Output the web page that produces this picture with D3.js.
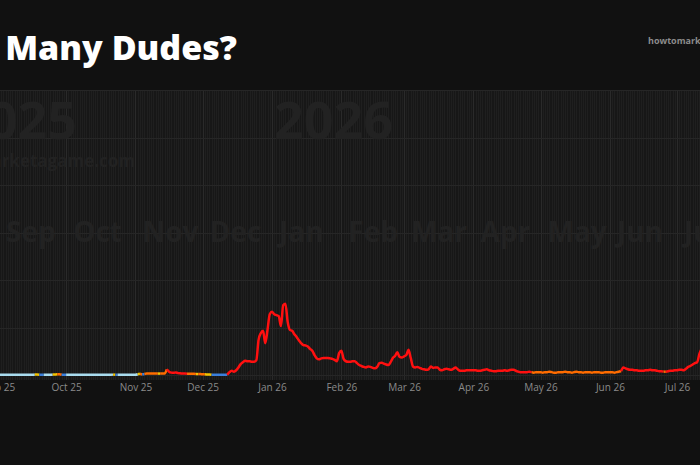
<!DOCTYPE html>
<html><head><meta charset="utf-8">
<script src="https://cdn.jsdelivr.net/npm/d3@7"></script>
<style>
html,body{margin:0;padding:0;background:#111111;}
svg{display:block;}
</style></head>
<body>
<svg id="chart" width="700" height="465"></svg>
<script>
// ---- DATA ----
const startDate = "2025-09-01";           // first daily value
const yTicks = [0, 100, 200, 300, 400, 500, 600];
const monthTickFormat = "%b %y";
const yearLabels = [{year: "2025", date: "2025-09-01", anchor: "end"}, {year: "2026", date: "2026-01-01", anchor: "start"}];
const bigMonthLabels = ["Sep","Oct","Nov","Dec","Jan","Feb","Mar","Apr","May","Jun","Jul"];
const bigMonthDates  = ["2025-09-01","2025-10-01","2025-11-01","2025-12-01","2026-01-01","2026-02-01","2026-03-01","2026-04-01","2026-05-01","2026-06-01","2026-07-01"];

// daily values, month by month
const sep25 = [0.5,0.5,0.5,0.5,0.5,0.5,0.5,0.5,0.5,0.5,0.5,0.5,0.5,0.5,0.5,0.5,1,1,0.5,0.5,0.5,0.5,0.5,0.5,1,1,1.5,1.5,0.5,0.5];
const oct25 = [0.5,0.5,0.5,0.5,0.5,0.5,0.5,0.5,0.5,0.5,0.5,0.5,0.5,0.5,0.5,0.5,0.5,0.5,0.5,0.5,0.5,0.8,0.5,0.5,0.5,0.5,0.5,0.5,0.5,0.5,0.5];
const nov25 = [0.5,1.5,2.5,1,2,3,3,3,3,3,3,3,3,3,12,7,5,4.5,5.5,4,3.5,3,3,2.5,2.5,2.5,2.5,2,2,2];
const dec25 = [1.5,1.5,1,1,0.5,0.5,0.5,0.5,0.5,0.5,0.5,0.5,6,9,7,10,16,23,27,30,29,29,28,28,31,74,88,93,67,95,128];
const jan26 = [133,128,126,124,103,147,150,112,95,93,86,80,73,67,63,62,60,55,51,42,35,33,35,36,36,36,35,34,32,29,46];
const feb26 = [51,34,29,28,28,29,29,25,21,19,17,16,18,17,15,14,17,25,26,24,22,21,27,36,40,48,38,37];
const mar26 = [39,42,53,36,18,16,17,15,13,12,11,12,18,15,16,16,11,10,12,13,12,11,13,16,12,9,9,9,10,10,10];
const apr26 = [10,10,9,9,10,11,12,10,9,8,8,9,9,9,10,9,10,11,11,9,7,6,6,6,6,7,6,5,6,6];
const may26 = [6,5,6,6,7,6,5,5,6,6,6,7,6,6,5,6,7,6,6,5,6,6,6,5,6,6,6,5,5,6,6];
const jun26 = [6,6,5,6,7,8,16,14,12,11,11,10,10,9,9,9,10,10,11,10,10,9,8,8,7,7,8,9,9,10];
const jul26 = [10,11,11,10,13,17,19,22,25,27,44,55,63];

// status runs: [index of first day, status code]
const statusRuns = [[0,"lb"],[16,"y"],[18,"b"],[20,"lb"],[24,"y"],[26,"o"],[28,"b"],[30,"lb"],[51,"y"],[52,"b"],[53,"lb"],
  [62,"y"],[63,"o"],[64,"b"],[65,"o"],[71,"y"],[72,"o"],[75,"r"],[84,"o"],[88,"y"],[89,"o"],[92,"y"],[95,"b"],[102,"r"],
  [238,"o"],[278,"r"],[297,"o"],[298,"r"]];
const statusColors = {lb:"#a9dcef", b:"#3b7fdc", y:"#f3c300", o:"#ff6c00", r:"#ff1010"};

// ---- BUILD ----
const values = [].concat(sep25, oct25, nov25, dec25, jan26, feb26, mar26, apr26, may26, jun26, jul26);
const t0 = new Date(startDate + "T00:00:00Z");
const data = values.map((v, i) => ({date: d3.utcDay.offset(t0, i), value: v}));
let ri = 0;
data.forEach((d, i) => {
  while (ri + 1 < statusRuns.length && statusRuns[ri + 1][0] <= i) ri++;
  d.status = statusRuns[ri][1];
});

const svg = d3.select("#chart");
const W = 700, H = 465;
const plotTop = 90, plotBottom = 380;

const x = d3.scaleUtc()
  .domain([new Date("2025-09-01T00:00:00Z"), new Date("2026-07-01T00:00:00Z")])
  .range([-1, 677]);
const y = d3.scaleLinear().domain([0, 600]).range([375, 90]);

svg.append("rect").attr("width", W).attr("height", H).attr("fill", "#111111");
svg.append("rect").attr("x", 0).attr("y", plotTop).attr("width", W).attr("height", plotBottom - plotTop).attr("fill", "#171717");

// daily stripes
const days = d3.utcDay.range(new Date("2025-08-20T00:00:00Z"), new Date("2026-07-25T00:00:00Z"));
svg.append("g").selectAll("line").data(days).join("line")
  .attr("x1", d => Math.round(x(d)) + 0.5).attr("x2", d => Math.round(x(d)) + 0.5)
  .attr("y1", plotTop).attr("y2", plotBottom)
  .attr("stroke", "#1f1f1f").attr("stroke-width", 1);
// month lines
const months = d3.utcMonth.range(new Date("2025-08-01T00:00:00Z"), new Date("2026-08-01T00:00:00Z"));
svg.append("g").selectAll("line").data(months).join("line")
  .attr("x1", d => Math.round(x(d)) + 0.5).attr("x2", d => Math.round(x(d)) + 0.5)
  .attr("y1", plotTop).attr("y2", plotBottom)
  .attr("stroke", "#2a2a2a").attr("stroke-width", 1);
// horizontal grid
svg.append("g").selectAll("line").data(yTicks).join("line")
  .attr("x1", 0).attr("x2", W)
  .attr("y1", d => Math.round(y(d)) + 0.5).attr("y2", d => Math.round(y(d)) + 0.5)
  .attr("stroke", "#262626").attr("stroke-width", 1);

// watermarks
const wm = svg.append("g").attr("fill", "#222222").style("font-family", "'Open Sans', sans-serif").style("font-weight", 700);
wm.selectAll("text.yr").data(yearLabels).join("text").attr("class", "yr")
  .attr("x", d => d.anchor === "end" ? x(new Date(d.date + "T00:00:00Z")) + 78 : x(new Date(d.date + "T00:00:00Z")) + 2)
  .attr("y", 139).attr("text-anchor", d => d.anchor)
  .style("font-size", "52px").text(d => d.year);
wm.append("text").attr("x", 135).attr("y", 167).attr("text-anchor", "end")
  .style("font-size", "17px").text("howtomarketagame.com");
wm.selectAll("text.mo").data(bigMonthLabels).join("text").attr("class", "mo")
  .attr("x", (d, i) => x(new Date(bigMonthDates[i] + "T00:00:00Z")) + 7)
  .attr("y", 242).style("font-size", "28px").text(d => d);

// line, split into coloured runs
const line = d3.line().x(d => x(d.date)).y(d => y(d.value)).curve(d3.curveMonotoneX);
const runs = [];
let cur = null;
data.forEach((d, i) => {
  if (!cur || cur.status !== d.status) {
    if (cur) cur.pts.push(d);
    cur = {status: d.status, pts: [d]};
    runs.push(cur);
  } else cur.pts.push(d);
});
svg.append("g").selectAll("path").data(runs).join("path")
  .attr("d", r => line(r.pts))
  .attr("fill", "none")
  .attr("stroke", r => statusColors[r.status])
  .attr("stroke-width", 2.5)
  .attr("stroke-linejoin", "round").attr("stroke-linecap", "butt");

// x axis
const axis = d3.axisBottom(x).ticks(d3.utcMonth.every(1)).tickFormat(d3.utcFormat(monthTickFormat)).tickSize(0).tickPadding(4);
const ax = svg.append("g").attr("transform", `translate(0,${plotBottom})`).call(axis);
ax.select(".domain").remove();
ax.selectAll("text").attr("fill", "#8a8a8a").style("font-family", "'Open Sans', sans-serif").style("font-size", "10px");

// title
svg.append("text").attr("x", 237).attr("y", 60).attr("text-anchor", "end")
  .attr("fill", "#ffffff").style("font-family", "'Open Sans', sans-serif").style("font-weight", 800).style("font-size", "34px")
  .text("How Many Dudes?");
svg.append("text").attr("x", 648).attr("y", 44)
  .attr("fill", "#8c8c8c").style("font-family", "'Open Sans', sans-serif").style("font-weight", 700).style("font-size", "9px")
  .text("howtomarketagame.com");
</script>
</body></html>
